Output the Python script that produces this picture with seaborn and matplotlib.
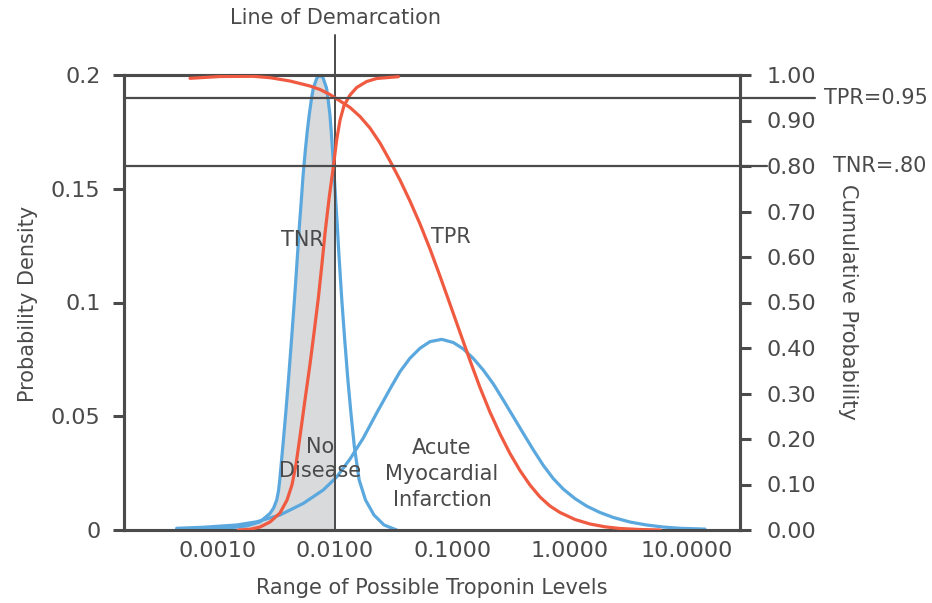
import numpy as np
import pandas as pd
import seaborn as sns
from matplotlib import pyplot as plt

sns.set_style('white')
plt.rcParams['font.family'] = ['DejaVu Sans']

# values (x as log10 of troponin level)
nd_log = [-3.151, -3.066, -2.895, -2.753, -2.639, -2.554, -2.523, -2.497, -2.482, -2.471,
          -2.445, -2.420, -2.397, -2.371, -2.346, -2.333, -2.318, -2.303, -2.286, -2.272,
          -2.254, -2.237, -2.220, -2.200, -2.185, -2.156, -2.142, -2.128, -2.113, -2.100,
          -2.072, -2.060, -2.043, -2.032, -2.020, -2.007, -2.000, -1.995, -1.981, -1.968,
          -1.954, -1.942, -1.917, -1.890, -1.864, -1.835, -1.794, -1.740, -1.668, -1.582,
          -1.474]
nd_dens = [0.0004, 0.0006, 0.0010, 0.0018, 0.0036, 0.0073, 0.0097, 0.0132, 0.0171, 0.0220,
           0.0366, 0.0513, 0.0659, 0.0835, 0.1011, 0.1108, 0.1223, 0.1341, 0.1458, 0.1560,
           0.1663, 0.1751, 0.1824, 0.1898, 0.1942, 0.1985, 0.1994, 0.1996, 0.1994, 0.1985,
           0.1942, 0.1898, 0.1824, 0.1751, 0.1663, 0.1560, 0.1502, 0.1458, 0.1341, 0.1223,
           0.1108, 0.1011, 0.0835, 0.0659, 0.0513, 0.0366, 0.0220, 0.0132, 0.0066, 0.0022,
           0.0]

ami_log = [-3.350, -3.123, -2.838, -2.668, -2.469, -2.270, -2.100, -1.986, -1.872, -1.759,
           -1.645, -1.531, -1.446, -1.361, -1.275, -1.190, -1.090, -0.991, -0.906, -0.821,
           -0.736, -0.650, -0.565, -0.480, -0.395, -0.309, -0.224, -0.139, -0.054, 0.046,
           0.146, 0.259, 0.373, 0.515, 0.657, 0.799, 0.941, 1.154]
ami_dens = [0.00075, 0.0012, 0.0022, 0.0036, 0.0066, 0.0117, 0.0176, 0.0233, 0.0312, 0.0404,
            0.0514, 0.0620, 0.0696, 0.0755, 0.0799, 0.0828, 0.0838, 0.0824, 0.0796, 0.0754,
            0.0703, 0.0642, 0.0571, 0.0498, 0.0425, 0.0352, 0.0284, 0.0226, 0.0180, 0.0138,
            0.0105, 0.0077, 0.0055, 0.0035, 0.0022, 0.0013, 0.00075, 0.0004]

tnr_log = [-2.824, -2.725, -2.639, -2.554, -2.469, -2.409, -2.367, -2.332, -2.298, -2.256,
           -2.213, -2.179, -2.142, -2.113, -2.085, -2.049, -2.014, -1.986, -1.957, -1.923,
           -1.872, -1.815, -1.730, -1.645, -1.460]
tnr_cum = [0.0, 0.0015, 0.0066, 0.0176, 0.0374, 0.0659, 0.0989, 0.1451, 0.2066, 0.2857,
           0.3648, 0.4330, 0.5099, 0.5802, 0.6527, 0.7319, 0.7985, 0.8571, 0.9011, 0.9330,
           0.9560, 0.9725, 0.9857, 0.9923, 0.9963]

tpr_log = [-3.236, -2.980, -2.699, -2.554, -2.384, -2.213, -2.128, -2.043, -2.000, -1.957,
           -1.872, -1.787, -1.702, -1.616, -1.531, -1.446, -1.361, -1.275, -1.190, -1.105,
           -1.020, -0.934, -0.849, -0.764, -0.679, -0.593, -0.508, -0.423, -0.338, -0.252,
           -0.167, -0.082, 0.046, 0.174, 0.302, 0.430, 0.600, 0.771]
tpr_cum = [0.9927, 0.9967, 0.9971, 0.9941, 0.9868, 0.9758, 0.9681, 0.9571, 0.9500, 0.9429,
           0.9286, 0.9088, 0.8835, 0.8505, 0.8110, 0.7692, 0.7231, 0.6725, 0.6176, 0.5582,
           0.4967, 0.4341, 0.3725, 0.3132, 0.2593, 0.2110, 0.1681, 0.1308, 0.0989, 0.0725,
           0.0527, 0.0385, 0.0231, 0.0132, 0.0070, 0.0033, 0.0011, 0.0]

x_ticks = [0.001, 0.01, 0.1, 1, 10]
x_labels = ['0.0010', '0.0100', '0.1000', '1.0000', '10.0000']
left_ticks = [0, 0.05, 0.1, 0.15, 0.2]
left_labels = ['0', '0.05', '0.1', '0.15', '0.2']
right_ticks = [0.0, 0.1, 0.2, 0.3, 0.4, 0.5, 0.6, 0.7, 0.8, 0.9, 1.0]
right_labels = ['%.2f' % v for v in right_ticks]
cutoff = 0.01
tpr_level = 0.95
tnr_level = 0.80

nd = pd.DataFrame({'trop': 10 ** np.array(nd_log), 'dens': nd_dens})
ami = pd.DataFrame({'trop': 10 ** np.array(ami_log), 'dens': ami_dens})
tnr = pd.DataFrame({'trop': 10 ** np.array(tnr_log), 'cum': tnr_cum})
tpr = pd.DataFrame({'trop': 10 ** np.array(tpr_log), 'cum': tpr_cum})

BLUE = '#5ba8de'
RED = '#ef5a40'
DARK = '#4b4b4b'
TXT = '#4a4a4a'

fig = plt.figure(figsize=(9.32, 6.03), dpi=100)
ax = fig.add_axes([124 / 932, 73 / 603, 616 / 932, 455 / 603])
ax2 = ax.twinx()

# shaded area under no-disease curve left of the cutoff
sub = nd[nd.trop <= cutoff * 1.0001]
ax.fill_between(sub.trop, 0, sub.dens, color='#d9dadc', lw=0, zorder=1)

kw = dict(lw=2.3, zorder=3, sort=True)
sns.lineplot(data=nd, x='trop', y='dens', ax=ax, color=BLUE, **kw)
sns.lineplot(data=ami, x='trop', y='dens', ax=ax, color=BLUE, **kw)
sns.lineplot(data=tnr, x='trop', y='cum', ax=ax2, color=RED, **kw)
sns.lineplot(data=tpr, x='trop', y='cum', ax=ax2, color=RED, **kw)

ax.set_xscale('log')
ax.set_xlim(10 ** -3.799, 10 ** 1.453)
ax.set_ylim(0, 0.2)
ax2.set_ylim(0, 1)

ax.set_xticks(x_ticks)
ax.set_xticklabels(x_labels)
ax.minorticks_off()
ax.set_yticks(left_ticks)
ax.set_yticklabels(left_labels)
ax2.set_yticks(right_ticks)
ax2.set_yticklabels(right_labels)
ax.set_xlabel('')
ax.set_ylabel('')
ax2.set_ylabel('')

ax.tick_params(axis='x', length=0, pad=8, labelsize=16, labelcolor=TXT)
ax.tick_params(axis='y', length=8, width=2.2, color=DARK, pad=9, labelsize=16,
               labelcolor=TXT, left=True, direction='out')
ax2.tick_params(axis='y', length=8, width=2.2, color=DARK, pad=11, labelsize=16,
                labelcolor=TXT, right=True, direction='out')

for a in (ax, ax2):
    for s in a.spines.values():
        s.set_color(DARK)
        s.set_linewidth(2.2)
        s.set_visible(True)

# reference lines
ax.axvline(cutoff, ymin=0, ymax=(530 - 35) / 455, color=DARK, lw=1.4, clip_on=False, zorder=4)
ax2.axhline(tpr_level, xmin=0, xmax=(815 - 124) / 616, color=DARK, lw=1.6, clip_on=False, zorder=4)
ax2.axhline(tnr_level, xmin=0, xmax=(767 - 124) / 616, color=DARK, lw=1.6, clip_on=False, zorder=4)

# annotations
fs = 15
fig.text(335 / 932, 1 - 18 / 603, 'Line of Demarcation', ha='center', va='center', fontsize=fs, color=TXT)
fig.text(824 / 932, 1 - 98 / 603, 'TPR=0.95', ha='left', va='center', fontsize=fs, color=TXT)
fig.text(833 / 932, 1 - 166 / 603, 'TNR=.80', ha='left', va='center', fontsize=fs, color=TXT)
fig.text(302 / 932, 1 - 240 / 603, 'TNR', ha='center', va='center', fontsize=fs, color=TXT, zorder=5)
fig.text(451 / 932, 1 - 237 / 603, 'TPR', ha='center', va='center', fontsize=fs, color=TXT)
fig.text(320 / 932, 1 - 459 / 603, 'No\nDisease', ha='center', va='center', fontsize=fs,
         color=TXT, linespacing=1.3)
fig.text(442 / 932, 1 - 474 / 603, 'Acute\nMyocardial\nInfarction', ha='center', va='center',
         fontsize=fs, color=TXT, linespacing=1.35)

fig.text(432 / 932, 1 - 588 / 603, 'Range of Possible Troponin Levels', ha='center', va='center',
         fontsize=15, color=TXT, fontweight='medium')
fig.text(28 / 932, 1 - 304 / 603, 'Probability Density', ha='center', va='center', rotation=90,
         fontsize=15, color=TXT, fontweight='medium')
fig.text(848 / 932, 1 - 302 / 603, 'Cumulative Probability', ha='center', va='center', rotation=270,
         fontsize=15, color=TXT, fontweight='medium')

fig.savefig('out.png', dpi=100)
